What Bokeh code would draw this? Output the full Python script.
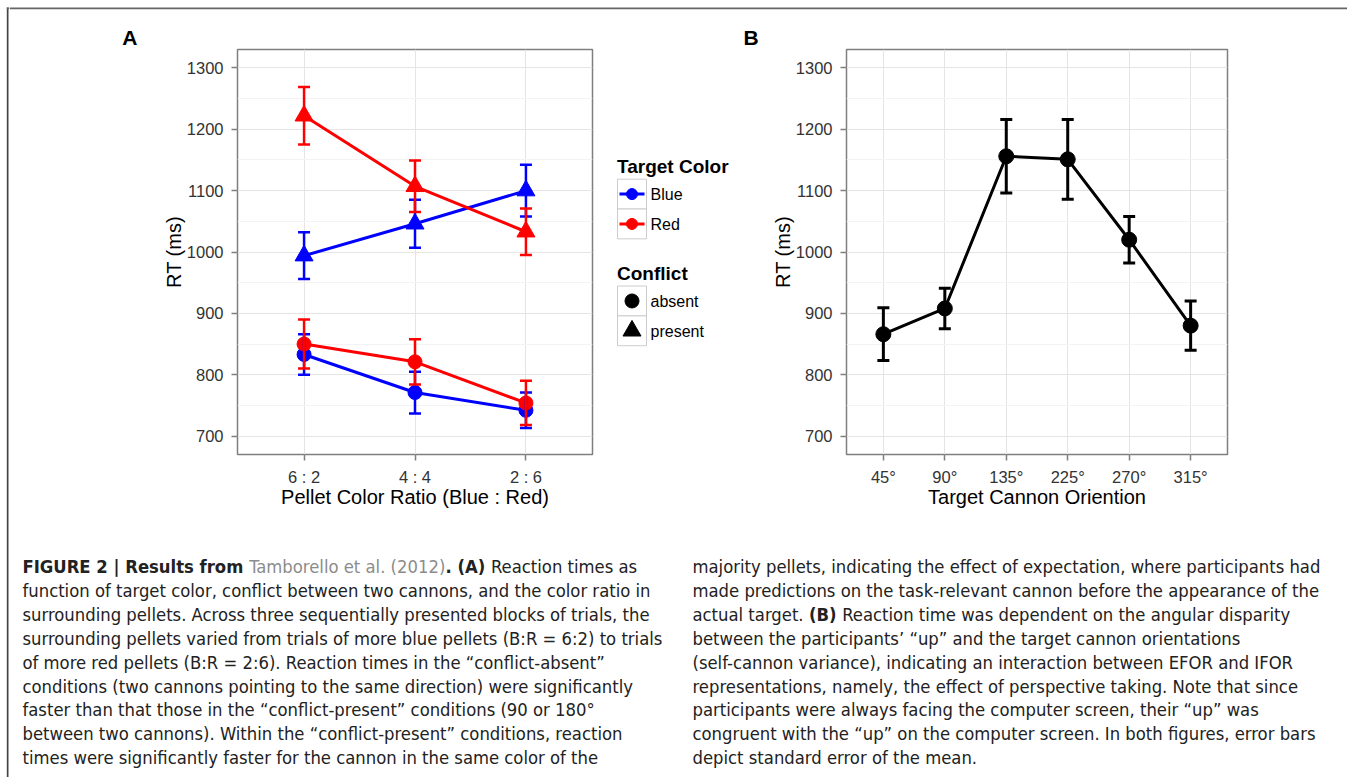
import subprocess
from PIL import ImageFont
from bokeh.plotting import figure
from bokeh.models import Range1d, FixedTicker, ColumnDataSource, Whisker, TeeHead
from bokeh.layouts import row, column
from bokeh.embed import file_html
from bokeh.resources import INLINE
from bokeh.core.properties import value

# ---------------- data ----------------
ratio_labels = ["6 : 2", "4 : 4", "2 : 6"]
blue_absent = [833, 771, 742]
blue_absent_se = [33, 34, 29]
blue_present = [994, 1046, 1100]
blue_present_se = [38, 39, 42]
red_absent = [850, 821, 754]
red_absent_se = [40, 37, 36]
red_present = [1222, 1107, 1033]
red_present_se = [47, 42, 38]

orient_labels = ["45°", "90°", "135°", "225°", "270°", "315°"]
orient_rt = [866, 908, 1156, 1151, 1020, 880]
orient_se = [43, 33, 60, 65, 38, 40]

y_ticks = [700, 800, 900, 1000, 1100, 1200, 1300]
y_minor = [750, 850, 950, 1050, 1150, 1250]

legend_color_title = "Target Color"
legend_color_labels = ["Blue", "Red"]
legend_shape_title = "Conflict"
legend_shape_labels = ["absent", "present"]

caption_left = [
    None,
    "function of target color, conflict between two cannons, and the color ratio in",
    "surrounding pellets. Across three sequentially presented blocks of trials, the",
    "surrounding pellets varied from trials of more blue pellets (B:R = 6:2) to trials",
    "of more red pellets (B:R = 2:6). Reaction times in the \u201cconflict-absent\u201d",
    "conditions (two cannons pointing to the same direction) were significantly",
    "faster than that those in the \u201cconflict-present\u201d conditions (90 or 180\u00b0",
    "between two cannons). Within the \u201cconflict-present\u201d conditions, reaction",
    "times were significantly faster for the cannon in the same color of the",
]
caption_left_first = [("FIGURE 2 | Results from ", "bold", "#222222"),
                      ("Tamborello et al. (2012)", "normal", "#8c8c8c"),
                      (". (A) ", "bold", "#222222"),
                      ("Reaction times as", "normal", "#222222")]
caption_right = [
    "majority pellets, indicating the effect of expectation, where participants had",
    "made predictions on the task-relevant cannon before the appearance of the",
    None,
    "between the participants\u2019 \u201cup\u201d and the target cannon orientations",
    "(self-cannon variance), indicating an interaction between EFOR and IFOR",
    "representations, namely, the effect of perspective taking. Note that since",
    "participants were always facing the computer screen, their \u201cup\u201d was",
    "congruent with the \u201cup\u201d on the computer screen. In both figures, error bars",
    "depict standard error of the mean.",
]
caption_right_third = [("actual target. ", "normal", "#222222"),
                       ("(B) ", "bold", "#222222"),
                       ("Reaction time was dependent on the angular disparity", "normal", "#222222")]

FONT = "Liberation Sans"
BLUE = "#0000ff"
RED = "#ff0000"


# ---------------- caption font handling ----------------
def fc(pattern):
    try:
        r = subprocess.run(["fc-match", "-f", "%{family}|%{file}", pattern],
                           capture_output=True, text=True, timeout=20)
        fam, path = r.stdout.split("|", 1)
        return [f.strip() for f in fam.split(",")], path.strip()
    except Exception:
        return [], None


cap_font, reg_path, bold_path = "Liberation Sans", None, None
for cand in ["Liberation Sans Narrow", "Noto Sans Condensed", "Noto Sans SemiCondensed",
             "DejaVu Sans Condensed", "Roboto Condensed", "Liberation Sans"]:
    fams, path = fc(cand)
    if cand in fams:
        cap_font, reg_path = cand, path
        bfams, bpath = fc(cand + ":bold")
        bold_path = bpath if cand in bfams else path
        break


def em_len(text, bold=False):
    path = bold_path if bold else reg_path
    try:
        f = ImageFont.truetype(path, 200)
        return f.getlength(text) / 200.0
    except Exception:
        return len(text) * 0.5


s1 = 636.0 / em_len(caption_left[3])
s2 = 626.0 / em_len(caption_right[7])
cap_size = round((s1 + s2) / 2.0, 1)


# ---------------- helpers ----------------
def set_standoff(ax, name, v, fallback):
    try:
        setattr(ax, name, v)
    except Exception:
        setattr(ax, name, fallback)


def style_axes(p, labels, xlabel):
    p.xaxis.ticker = FixedTicker(ticks=list(range(len(labels))))
    p.xaxis.major_label_overrides = {i: l for i, l in enumerate(labels)}
    p.yaxis.ticker = FixedTicker(ticks=y_ticks, minor_ticks=y_minor)
    p.xaxis.axis_label = xlabel
    p.yaxis.axis_label = "RT (ms)"
    for ax in p.axis:
        ax.axis_line_color = None
        ax.major_tick_line_color = "#7f7f7f"
        ax.major_tick_line_width = 1.5
        ax.major_tick_in = 0
        ax.major_tick_out = 6
        ax.minor_tick_line_color = None
        ax.major_label_text_font = FONT
        ax.major_label_text_font_size = "16.5px"
        ax.major_label_text_color = "#333333"
        ax.axis_label_text_font = FONT
        ax.axis_label_text_font_size = "20px"
        ax.axis_label_text_font_style = "normal"
        ax.axis_label_text_color = "#000000"
    for ax in p.xaxis:
        ax.major_label_standoff = 7
        set_standoff(ax, "axis_label_standoff", -3, 0)
    for ax in p.yaxis:
        ax.major_label_standoff = 8
        set_standoff(ax, "axis_label_standoff", -1, 0)
    p.xgrid.grid_line_color = "#e5e5e5"
    p.ygrid.grid_line_color = "#e5e5e5"
    p.ygrid.minor_grid_line_color = "#f3f3f3"
    p.outline_line_color = "#7f7f7f"
    p.outline_line_width = 1.5


def blank(w, h, bg="#ffffff", top=0, bottom=0):
    p = figure(width=w, height=h, x_range=Range1d(0, w), y_range=Range1d(h - bottom, top),
               output_backend="svg", toolbar_location=None, min_border=0,
               min_border_top=top, min_border_bottom=bottom,
               x_axis_location=None, y_axis_location=None,
               background_fill_color=bg, border_fill_color=bg)
    p.grid.visible = False
    p.outline_line_color = None
    return p


def add_series(p, xs, vals, se, color, marker, size, lw, ew, cap):
    src = ColumnDataSource(dict(x=xs, y=vals,
                                lo=[v - s for v, s in zip(vals, se)],
                                hi=[v + s for v, s in zip(vals, se)]))
    p.add_layout(Whisker(source=src, base="x", upper="hi", lower="lo", dimension="height",
                         line_color=color, line_width=ew, level="glyph",
                         upper_head=TeeHead(size=cap, line_color=color, line_width=ew),
                         lower_head=TeeHead(size=cap, line_color=color, line_width=ew)))
    p.line("x", "y", source=src, line_color=color, line_width=lw)
    p.scatter("x", "y", source=src, marker=marker, size=size, fill_color=color, line_color=color)


ROW_H = 474

# ---------------- panel A ----------------
pA = figure(width=587, height=ROW_H, x_range=Range1d(-0.6, 2.6), y_range=Range1d(670, 1330),
            output_backend="svg", toolbar_location=None, min_border=0,
            min_border_left=228, min_border_right=4, min_border_top=1, min_border_bottom=66)
style_axes(pA, ratio_labels, "Pellet Color Ratio (Blue : Red)")
xa = list(range(len(ratio_labels)))
add_series(pA, xa, blue_absent, blue_absent_se, BLUE, "circle", 14, 3, 2.5, 12)
add_series(pA, xa, blue_present, blue_present_se, BLUE, "triangle", 18, 3, 2.5, 12)
add_series(pA, xa, red_absent, red_absent_se, RED, "circle", 14, 3, 2.5, 12)
add_series(pA, xa, red_present, red_present_se, RED, "triangle", 18, 3, 2.5, 12)

# ---------------- panel B ----------------
pB = figure(width=591, height=ROW_H, x_range=Range1d(-0.6, 5.6), y_range=Range1d(670, 1330),
            output_backend="svg", toolbar_location=None, min_border=0,
            min_border_left=98, min_border_right=112, min_border_top=1, min_border_bottom=68)
style_axes(pB, orient_labels, "Target Cannon Oriention")
xb = list(range(len(orient_labels)))
add_series(pB, xb, orient_rt, orient_se, "#000000", "circle", 15, 3, 3, 12)

# ---------------- legend (between panels) ----------------
leg = blank(152, ROW_H, top=1, bottom=66)
bx0, bx1 = 21, 50
kx = (bx0 + bx1) / 2
t1y, t2y = 118.5, 226
rows1 = [(131.3, 161.3), (161.3, 191.3)]
rows2 = [(238.7, 268.7), (268.7, 298.7)]
leg.text(x=[bx0 - 0.5, bx0 - 0.5], y=[t1y, t2y], text=[legend_color_title, legend_shape_title],
         text_font=value(FONT), text_font_size="19px", text_font_style="bold",
         text_baseline="middle", text_align="left", text_color="#000000")
allrows = rows1 + rows2
leg.quad(left=[bx0] * 4, right=[bx1] * 4, top=[r[0] for r in allrows], bottom=[r[1] for r in allrows],
         fill_color="#ffffff", line_color="#cccccc", line_width=1)
cy1 = [(a + b) / 2 for a, b in rows1]
cy2 = [(a + b) / 2 for a, b in rows2]
leg.segment(x0=[bx0 + 2] * 2, x1=[bx1 - 2] * 2, y0=cy1, y1=cy1, line_color=[BLUE, RED], line_width=3)
leg.scatter(x=[kx] * 2, y=cy1, size=11, fill_color=[BLUE, RED], line_color=[BLUE, RED])
leg.scatter(x=[kx], y=[cy2[0]], marker="circle", size=14, fill_color="#000000", line_color="#000000")
leg.scatter(x=[kx], y=[cy2[1]], marker="triangle", size=18, fill_color="#000000", line_color="#000000")
leg.text(x=[bx1 + 4] * 4, y=[c + 0.5 for c in cy1 + cy2], text=legend_color_labels + legend_shape_labels,
         text_font=value(FONT), text_font_size="16px", text_baseline="middle", text_align="left",
         text_color="#000000")

# ---------------- panel letters + top rule ----------------
STRIP_H = 48
strip = blank(1338, STRIP_H)
strip.quad(left=[0], right=[1338], top=[7], bottom=[8.7], fill_color="#666666", line_color=None)
strip.text(x=[112.7, 734], y=[36.5, 36.5], text=["A", "B"], text_font=value(FONT), text_font_size="21px",
           text_font_style="bold", text_baseline="middle", text_align="left", text_color="#000000")

# ---------------- caption ----------------
CAP_H = 777 - STRIP_H - ROW_H
cap = blank(1338, CAP_H)
lx, rx = 13, 683
y0, dy = 566 - (STRIP_H + ROW_H), 23.9
size_str = "%.1fpx" % cap_size


def cap_text(xs, ys, texts, style, color):
    cap.text(x=xs, y=ys, text=texts, text_font=value(cap_font), text_font_size=size_str,
             text_font_style=style, text_color=color, text_baseline="middle", text_align="left")


def mixed(x, y, segs):
    cx = x
    for t, st, colr in segs:
        cap_text([cx], [y], [t.rstrip()], st, colr)
        cx += em_len(t, st == "bold") * cap_size


plain_l = [(i, t) for i, t in enumerate(caption_left) if t is not None]
plain_r = [(i, t) for i, t in enumerate(caption_right) if t is not None]
cap_text([lx] * len(plain_l), [y0 + dy * i for i, _ in plain_l], [t for _, t in plain_l], "normal", "#222222")
cap_text([rx] * len(plain_r), [y0 + dy * i for i, _ in plain_r], [t for _, t in plain_r], "normal", "#222222")
mixed(lx, y0, caption_left_first)
mixed(rx, y0 + dy * 2, caption_right_third)

# ---------------- left rule ----------------
leftfig = blank(9, 777)
leftfig.quad(left=[6.3], right=[8], top=[7], bottom=[777], fill_color="#444444", line_color=None)
leftfig.quad(left=[6.3], right=[9], top=[7], bottom=[8.7], fill_color="#666666", line_color=None)

layout = row(leftfig, column(strip, row(pA, leg, pB), cap))

open("out.html", "w").write(file_html(layout, INLINE))
